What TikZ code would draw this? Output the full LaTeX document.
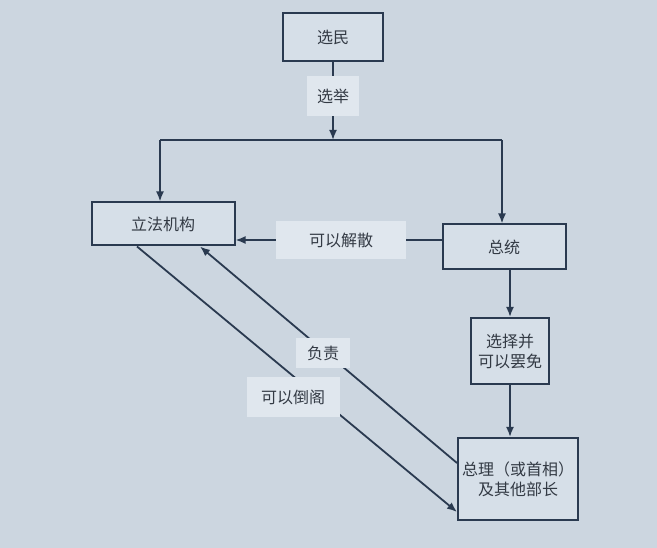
\documentclass[tikz,border=0pt]{standalone}
\usepackage{fontspec}
\setmainfont{Noto Sans CJK SC}
\usetikzlibrary{arrows.meta}
\pgfdeclarelayer{bg}
\pgfdeclarelayer{lines}
\pgfsetlayers{bg,lines,main}
\definecolor{bgc}{HTML}{CCD6E0}
\definecolor{boxc}{HTML}{D6DFE8}
\definecolor{labc}{HTML}{E0E7EE}
\definecolor{linec}{HTML}{2A3A50}
\definecolor{txtc}{HTML}{333A44}
\tikzset{
  box/.style={draw=linec, line width=2pt, fill=boxc, text=txtc, font=\fontsize{16}{20}\selectfont, align=center, inner sep=0pt},
  lab/.style={fill=labc, text=txtc, font=\fontsize{16}{20}\selectfont, align=center, inner sep=0pt},
  conn/.style={draw=linec, line width=1.8pt},
  arr/.style={conn, -{Latex[length=10pt,width=8pt]}}
}
\begin{document}
\begin{tikzpicture}[x=1pt,y=1pt]
\begin{pgfonlayer}{bg}
\fill[bgc] (0,0) rectangle (657,-548);
\end{pgfonlayer}
\useasboundingbox (0,0) rectangle (657,-548);

\node[box, minimum width=100, minimum height=48] (voter) at (333,-37) {选民};
\node[lab, minimum width=52, minimum height=40] (elect) at (333,-96) {选举};
\node[box, minimum width=143, minimum height=43] (legis) at (163,-224) {立法机构};
\node[box, minimum width=123, minimum height=45] (pres) at (504,-247) {总统};
\node[lab, minimum width=130, minimum height=38] (dissolve) at (341,-240) {可以解散};
\node[box, minimum width=78, minimum height=66] (appoint) at (510,-351) {选择并\\可以罢免};
\node[box, minimum width=120, minimum height=82] (pm) at (518,-479) {总理（或首相）\\及其他部长};
\node[lab, minimum width=54, minimum height=30] (resp) at (323,-353) {负责};
\node[lab, minimum width=93, minimum height=40] (censure) at (293,-397) {可以倒阁};

\coordinate (jl) at (160,-140);
\coordinate (jr) at (502,-140);
\coordinate (jm) at (333,-140);
\coordinate (pmA) at ([yshift=16]pm.west);
\coordinate (pmB) at ([yshift=-33]pm.west);
\coordinate (legA) at ([xshift=37]legis.south);
\coordinate (legB) at ([xshift=-26]legis.south);

\begin{pgfonlayer}{lines}
\draw[conn] (voter.south) -- (elect.north);
\draw[arr] (elect.south) -- (jm);
\draw[conn] (jl) -- (jr);
\draw[arr] (jl) -- (jl |- legis.north);
\draw[arr] (jr) -- (jr |- pres.north);
\draw[conn] (pres.west |- dissolve) -- (dissolve.east);
\draw[arr] (dissolve.west) -- (legis.east |- dissolve);
\draw[arr] (pres.south -| appoint) -- (appoint.north);
\draw[arr] (appoint.south) -- (appoint.south |- pm.north);
\draw[arr] (pmA) -- (legA);
\draw[arr] (legB) -- (pmB);
\end{pgfonlayer}
\end{tikzpicture}
\end{document}
